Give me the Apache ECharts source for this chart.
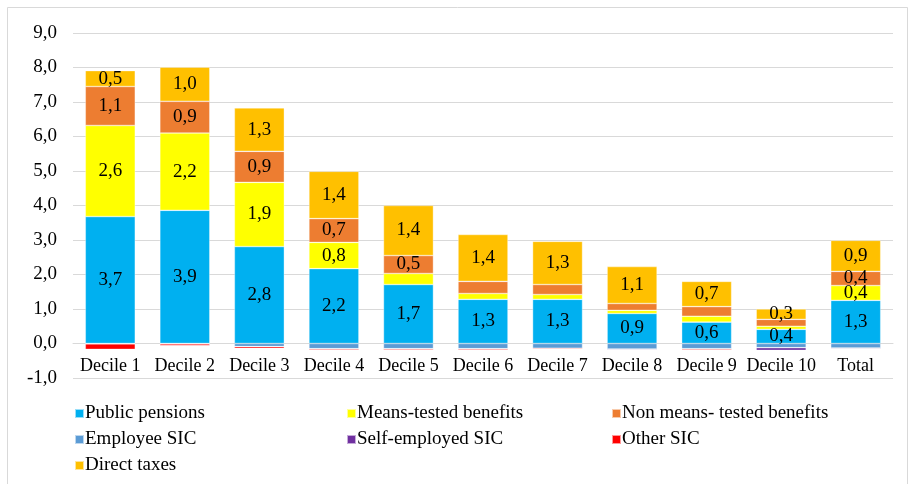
<!DOCTYPE html>
<html>
<head>
<meta charset="utf-8">
<script src="https://cdn.jsdelivr.net/npm/echarts@6/dist/echarts.min.js"></script>
<style>
  html, body { margin: 0; padding: 0; background: #fff; }
  #main { width: 911px; height: 484px; }
</style>
</head>
<body>
<div id="main"></div>
<script>
// deciles + total
var categories = ['Decile 1', 'Decile 2', 'Decile 3', 'Decile 4', 'Decile 5', 'Decile 6',
                  'Decile 7', 'Decile 8', 'Decile 9', 'Decile 10', 'Total'];

// values
var publicPensions = [3.68, 3.86, 2.81, 2.17, 1.71, 1.28, 1.28, 0.87, 0.62, 0.41, 1.25];
var meansTested    = [2.64, 2.24, 1.86, 0.76, 0.32, 0.17, 0.14, 0.09, 0.17, 0.09, 0.43];
var nonMeansTested = [1.13, 0.92, 0.90, 0.69, 0.52, 0.35, 0.29, 0.20, 0.28, 0.20, 0.41];
var employeeSIC    = [-0.01, -0.01, -0.09, -0.15, -0.15, -0.15, -0.14, -0.16, -0.15, -0.12, -0.13];
var selfEmployedSIC = [0, 0, 0, 0, 0, 0, 0, -0.02, -0.01, -0.08, -0.02];
var otherSIC       = [-0.16, -0.05, -0.05, -0.03, -0.03, -0.03, -0.03, -0.02, -0.03, -0.01, -0.02];
var directTaxes    = [0.46, 0.99, 1.26, 1.37, 1.45, 1.36, 1.25, 1.07, 0.73, 0.30, 0.90];

var FONT = '"Liberation Serif", "Times New Roman", serif';

function fmt(v) {
    return v.toFixed(1).replace('.', ',');
}

// small segments carry no label, taxes always do
function withLabels(arr, always) {
    return arr.map(function (v) {
        return { value: v, label: { show: always || v >= 0.4 } };
    });
}

function barSeries(name, data, color, labelled, always) {
    return {
        name: name,
        type: 'bar',
        stack: 'all',
        barWidth: '67%',
        data: labelled ? withLabels(data, always) : data,
        itemStyle: { color: color, borderColor: 'rgba(255,255,255,0.6)', borderWidth: 0.6 },
        label: {
            show: labelled,
            position: 'inside',
            color: '#000',
            fontFamily: FONT,
            fontSize: 19,
            formatter: function (p) { return fmt(p.value); }
        },
        emphasis: { disabled: true }
    };
}

var legendText = { fontFamily: FONT, fontSize: 19, color: '#000', lineHeight: 18, padding: [0, 0, 0, -4] };

function legendCol(left, names) {
    return {
        orient: 'vertical',
        left: left,
        top: 399,
        itemWidth: 9,
        itemHeight: 9,
        itemGap: 7,
        icon: 'rect',
        textStyle: legendText,
        data: names,
        selectedMode: false
    };
}

var myChart = echarts.init(document.getElementById('main'));
var option = {
    backgroundColor: '#fff',
    animation: false,
    graphic: [{
        type: 'rect',
        shape: { x: 7.5, y: 7.5, width: 900, height: 490 },
        style: { fill: 'none', stroke: '#d9d9d9', lineWidth: 1 },
        silent: true
    }],
    legend: [
        legendCol(69, ['Public pensions', 'Employee SIC', 'Direct taxes']),
        legendCol(341, ['Means-tested benefits', 'Self-employed SIC']),
        legendCol(606, ['Non means- tested benefits', 'Other SIC'])
    ],
    grid: { left: 73, right: 18, top: 33, bottom: 106 },
    xAxis: {
        type: 'category',
        data: categories,
        // category axis sits on the zero line, one unit above the bottom
        offset: -34.5,
        axisLine: { onZero: false, lineStyle: { color: '#d9d9d9' } },
        axisTick: { show: false },
        axisLabel: { fontFamily: FONT, fontSize: 18, color: '#000', margin: 14, interval: 0 }
    },
    yAxis: {
        type: 'value',
        min: -1,
        max: 9,
        interval: 1,
        axisLine: { show: false },
        axisTick: { show: false },
        splitLine: { lineStyle: { color: '#d9d9d9', width: 1 } },
        axisLabel: {
            fontFamily: FONT, fontSize: 19, color: '#000', margin: 16,
            formatter: function (v) { return fmt(v); }
        }
    },
    series: [
        barSeries('Public pensions', publicPensions, '#00B0F0', true, false),
        barSeries('Means-tested benefits', meansTested, '#FFFF00', true, false),
        barSeries('Non means- tested benefits', nonMeansTested, '#ED7D31', true, false),
        barSeries('Employee SIC', employeeSIC, '#5B9BD5', false),
        barSeries('Self-employed SIC', selfEmployedSIC, '#7030A0', false),
        barSeries('Other SIC', otherSIC, '#FF0000', false),
        barSeries('Direct taxes', directTaxes, '#FFC000', true, true)
    ]
};
myChart.setOption(option);
</script>
</body>
</html>
